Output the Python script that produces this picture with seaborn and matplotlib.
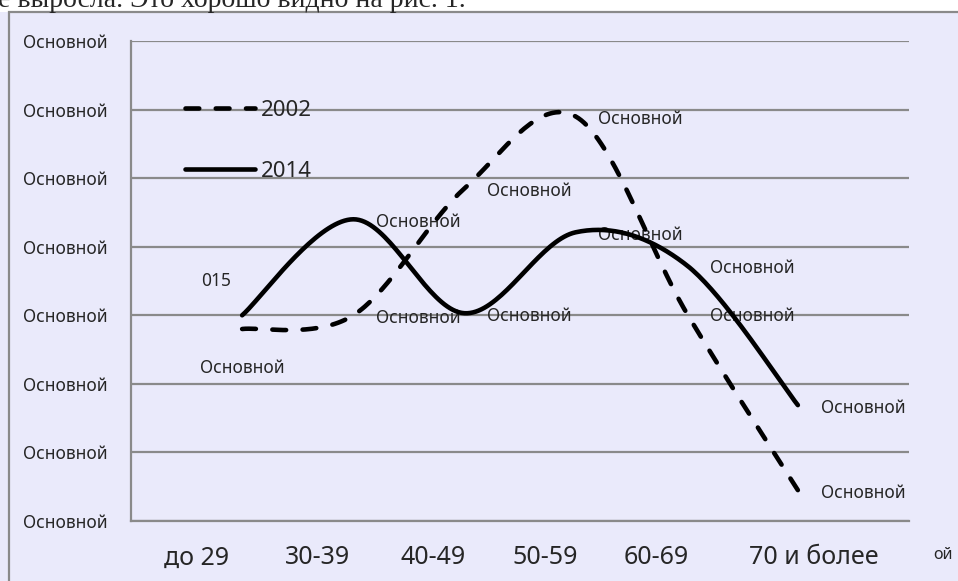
import numpy as np
import pandas as pd
import matplotlib
matplotlib.use("Agg")
import matplotlib.pyplot as plt
import matplotlib.patches as patches
import seaborn as sns

# Data (grid units, 8 gridlines = 0..7)
categories = ["до 29", "30-39", "40-49", "50-59", "60-69", "70 и более"]
values_2002 = [2.80, 3.00, 4.85, 5.90, 3.03, 0.45]
values_2014 = [3.00, 4.40, 3.03, 4.21, 3.73, 1.69]
series_names = ["2002", "2014"]
y_tick_labels = ["Основной"] * 8
point_label = "Основной"

bg = "#EAEAFB"
grid_col = "#8A8A8A"


def smooth(xs, ys, n=40):
    # Excel-like smoothed line: cubic Bezier through the points
    p = np.column_stack([xs, ys]).astype(float)
    ext = np.vstack([p[0], p, p[-1]])
    out = []
    for i in range(len(p) - 1):
        p0, p1 = ext[i + 1], ext[i + 2]
        c1 = p0 + (ext[i + 2] - ext[i]) / 6
        c2 = p1 - (ext[i + 3] - ext[i + 1]) / 6
        t = np.linspace(0, 1, n)[:, None]
        seg = (1 - t) ** 3 * p0 + 3 * (1 - t) ** 2 * t * c1 + 3 * (1 - t) * t ** 2 * c2 + t ** 3 * p1
        out.append(seg if i == 0 else seg[1:])
    return np.vstack(out)


sns.set_style("white")
plt.rcParams["font.family"] = ["Noto Sans", "DejaVu Sans"]

fig = plt.figure(figsize=(9.58, 5.81), dpi=100, facecolor=bg)
ax = fig.add_axes([131 / 958, 60 / 581, 778 / 958, 480 / 581])
ax.set_facecolor(bg)

xpos = np.arange(1, len(categories) + 1)

curve02 = smooth(xpos, values_2002)
curve14 = smooth(xpos, values_2014)
df02 = pd.DataFrame({"x": curve02[:, 0], "y": curve02[:, 1]})
df14 = pd.DataFrame({"x": curve14[:, 0], "y": curve14[:, 1]})

sns.lineplot(data=df02, x="x", y="y", sort=False, ax=ax, color="black", lw=3.3,
             linestyle=(0, (3.0, 3.6)), dash_capstyle="round", label=series_names[0], zorder=5)
sns.lineplot(data=df14, x="x", y="y", sort=False, ax=ax, color="black", lw=3.3,
             solid_capstyle="round", label=series_names[1], zorder=5)

ax.set_xlim(0, 7)
ax.set_ylim(0, 7)
ax.set_xlabel("")
ax.set_ylabel("")

# grid and axes
ax.set_yticks(range(8))
ax.set_yticklabels(y_tick_labels, fontsize=12.5)
ax.set_xticks(range(8))
ax.set_xticklabels([""] * 8)
ax.yaxis.grid(True, color=grid_col, lw=1.6)
ax.set_axisbelow(True)
for s in ["top", "right"]:
    ax.spines[s].set_visible(False)
for s in ["left", "bottom"]:
    ax.spines[s].set_color(grid_col)
    ax.spines[s].set_linewidth(1.6)
ax.tick_params(axis="both", direction="out", length=3.8, width=1.6, color=grid_col)
ax.tick_params(axis="y", pad=13)

# category labels
label_x = [0.59, 1.68, 2.72, 3.73, 4.73, 6.14]
trans = ax.get_xaxis_transform()
for lx, c in zip(label_x, categories):
    ax.text(lx, -0.077, c, transform=trans, ha="center", va="center", fontsize=18)

# point labels
for i, (a, b) in enumerate(zip(values_2002, values_2014)):
    if i == 0:
        continue
    for v in (a, b):
        ax.annotate(point_label, (xpos[i], v), xytext=(16.5, -2), textcoords="offset points",
                    ha="left", va="center", fontsize=12.5, zorder=3)
ax.annotate(point_label, (xpos[0], values_2002[0]), xytext=(0, -28), textcoords="offset points",
            ha="center", va="center", fontsize=12.5, zorder=3)
ax.annotate("015", (xpos[0], values_2014[0]), xytext=(-19, 25), textcoords="offset points",
            ha="center", va="center", fontsize=12.5, zorder=3)

# legend
handles, labels = ax.get_legend_handles_labels()
leg = ax.legend(handles, labels, loc="upper left", bbox_to_anchor=(0.069, 0.877),
                frameon=False, fontsize=16, handlelength=3.15, handletextpad=0.3,
                labelspacing=1.8, borderpad=0, borderaxespad=0)

# chart frame and the page text above it
fig.patches.append(patches.Rectangle((0, 1 - 12 / 581), 1, 12 / 581, transform=fig.transFigure,
                                     facecolor="white", edgecolor="none", zorder=0))
fig.patches.append(patches.Rectangle((9 / 958, -0.1), 1.2, 1.1 - 12 / 581, transform=fig.transFigure,
                                     facecolor="none", edgecolor=grid_col, lw=1.6, zorder=1))
fig.text(-2 / 958, 1 - 7 / 581, "е выросла. Это хорошо видно на рис. 1.", family="Liberation Serif",
         fontsize=20, ha="left", va="baseline")
fig.text(933 / 958, 1 - 555 / 581, "ой", fontsize=11.5, ha="left", va="center")

fig.savefig("out.png", dpi=100, facecolor=bg)
